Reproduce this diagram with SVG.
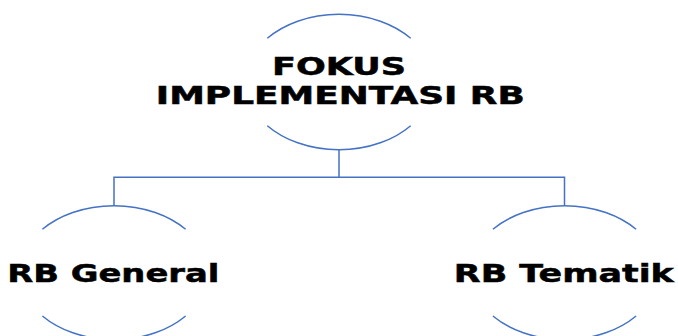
<svg xmlns="http://www.w3.org/2000/svg" width="678" height="336" viewBox="0 0 678 336">
<style>
.arc{fill:none;stroke:#4472C4;stroke-width:1.5}
.conn{fill:none;stroke:#4472C4;stroke-width:1.5}
.t{font-family:"DejaVu Sans","Verdana",sans-serif;font-weight:bold;fill:#000;stroke:#000;stroke-width:0.5;text-anchor:middle}
</style>
<rect width="678" height="336" fill="#fff"/>
<g id="connectors">
<path class="conn" d="M339,149.7 V177.3 M114,205.7 V177.3 H564.5 V205.3"/>
</g>
<g id="node-fokus">
<path class="arc" d="M267.3,38.3 A94,68 0 0 1 410.7,38.3"/>
<path class="arc" d="M267.3,125.7 A94,68 0 0 0 410.7,125.7"/>
<text class="t" x="339" y="75" font-size="24" textLength="134" lengthAdjust="spacingAndGlyphs">FOKUS</text>
<text class="t" x="340.3" y="104" font-size="24" textLength="369" lengthAdjust="spacingAndGlyphs">IMPLEMENTASI RB</text>
</g>
<g id="node-general">
<path class="arc" d="M42.4,229.3 A94,67 0 0 1 185.6,229.3"/>
<path class="arc" d="M42.4,316 A94,67 0 0 0 185.6,316"/>
<text class="t" x="113.3" y="281.7" font-size="25" textLength="212" lengthAdjust="spacingAndGlyphs">RB General</text>
</g>
<g id="node-tematik">
<path class="arc" d="M492.9,229.3 A94,67 0 0 1 636.1,229.3"/>
<path class="arc" d="M492.9,316 A94,67 0 0 0 636.1,316"/>
<text class="t" x="563.8" y="281.7" font-size="25" textLength="220" lengthAdjust="spacingAndGlyphs">RB Tematik</text>
</g>
</svg>
